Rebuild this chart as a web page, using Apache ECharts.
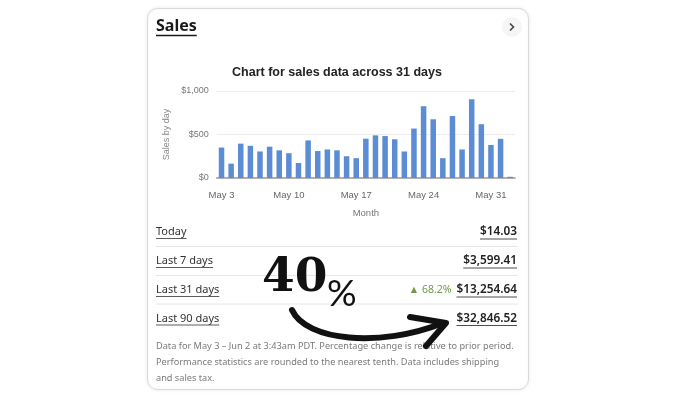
<!DOCTYPE html>
<html><head><meta charset="utf-8">
<script src="https://cdn.jsdelivr.net/npm/echarts@6/dist/echarts.min.js"></script>
<style>html,body{margin:0;padding:0;background:#fff}#c{width:680px;height:409px}</style>
</head><body><div id="c"></div>
<script>
const days = ['May 3','May 4','May 5','May 6','May 7','May 8','May 9','May 10','May 11','May 12','May 13','May 14','May 15','May 16','May 17','May 18','May 19','May 20','May 21','May 22','May 23','May 24','May 25','May 26','May 27','May 28','May 29','May 30','May 31','Jun 1','Jun 2'];
const sales = [350,165,395,370,305,360,318,285,172,432,310,328,318,250,228,452,490,482,445,305,568,825,675,228,712,328,905,618,380,450,14.03];
const yTicks = [0,500,1000];
const yTickLabels = ['$0','$500','$1,000'];
const cardTitle = 'Sales';
const chartTitle = 'Chart for sales data across 31 days';
const rowLabels = ['Today','Last 7 days','Last 31 days','Last 90 days'];
const rowValues = ['$14.03','$3,599.41','$13,254.64','$32,846.52'];
const changeText = '▲ 68.2%';
const footnote = [
  'Data for May 3 – Jun 2 at 3:43am PDT. Percentage change is relative to prior period.',
  'Performance statistics are rounded to the nearest tenth. Data includes shipping',
  'and sales tax.'
];
const noteBig = '40';
const noteSmall = '%';

const ctx = document.createElement('canvas').getContext('2d');
function tw(t, font){ ctx.font = font; return ctx.measureText(t).width; }

const UI = '"Noto Sans", "Open Sans", sans-serif';
const CH = '"Liberation Sans", Arial, sans-serif';
const g = [];
// card
g.push({type:'rect', z:-10, shape:{x:147.5,y:8.5,width:381,height:381,r:10},
  style:{fill:'#fff', stroke:'#d9d9d9', lineWidth:1, shadowBlur:4, shadowColor:'rgba(0,0,0,0.08)'}});
// title
g.push({type:'text', x:156, y:26, style:{text:cardTitle, font:'bold 16px '+UI, fill:'#191919', verticalAlign:'middle'}});
const stw = tw(cardTitle, 'bold 16px Noto Sans');
g.push({type:'line', shape:{x1:156,y1:35.5,x2:156+stw,y2:35.5}, style:{stroke:'#191919', lineWidth:1.5}});
// chevron button
g.push({type:'circle', shape:{cx:512,cy:27,r:10}, style:{fill:'#f5f5f5'}});
g.push({type:'polyline', shape:{points:[[510,23.5],[513.5,27],[510,30.5]]}, style:{stroke:'#444', lineWidth:1.6, fill:null}});
// chart title
g.push({type:'text', x:337, y:73, style:{text:chartTitle, font:'bold 12.5px '+CH, fill:'#222', align:'center', verticalAlign:'middle'}});
// rows
const rowY = [232,261,290,318.5];
const sepY = [246.5,275.5,304];
sepY.forEach(y => g.push({type:'line', shape:{x1:156,y1:y,x2:518,y2:y}, style:{stroke:'#e6e6e6', lineWidth:1}}));
const lf = '11px Noto Sans', vf = '600 11.8px Noto Sans';
rowLabels.forEach((t,i) => {
  const y = rowY[i];
  g.push({type:'text', x:156, y:y, style:{text:t, font:'11px '+UI, fill:'#333', verticalAlign:'middle'}});
  g.push({type:'line', shape:{x1:156,y1:y+6.5,x2:156+tw(t,lf),y2:y+6.5}, style:{stroke:'#333', lineWidth:0.8}});
  const v = rowValues[i];
  const w = tw(v, vf);
  g.push({type:'text', x:517, y:y, style:{text:v, font:'600 11.8px '+UI, fill:'#222', align:'right', verticalAlign:'middle'}});
  g.push({type:'line', shape:{x1:517-w,y1:y+7,x2:517,y2:y+7}, style:{stroke:'#222', lineWidth:0.8}});
  if (i === 2) {
    g.push({type:'text', x:517-w-5, y:y, style:{text:changeText, font:'10.5px '+UI, fill:'#6f9a4a', align:'right', verticalAlign:'middle'}});
  }
});
// footnote
footnote.forEach((t,i) => g.push({type:'text', x:156, y:346+i*16, style:{text:t, font:'9.2px '+UI, fill:'#7a7a7a', verticalAlign:'middle'}}));
// annotation
g.push({type:'text', z:100, x:262, y:279, style:{text:noteBig, font:'bold 47px "DejaVu Serif", serif', fill:'#111', verticalAlign:'middle'}});
g.push({type:'text', z:100, x:327, y:294, style:{text:noteSmall, font:'37px Lato, "Liberation Sans", sans-serif', fill:'#111', verticalAlign:'middle'}});
g.push({type:'bezierCurve', z:100, shape:{x1:292,y1:310,cpx1:306,cpy1:341,cpx2:380,cpy2:348,x2:443,y2:323},
  style:{stroke:'#111', lineWidth:6, fill:null, lineCap:'round'}});
g.push({type:'polyline', z:100, shape:{points:[[410,317],[446,323],[426,346]]},
  style:{stroke:'#111', lineWidth:6, fill:null, lineCap:'round', lineJoin:'round'}});

const chart = echarts.init(document.getElementById('c'), null, {renderer:'canvas'});
chart.setOption({
  backgroundColor:'#fff',
  animation:false,
  grid:{left:216.7, right:165, top:91, bottom:231, containLabel:false, outerBoundsMode:'none'},
  xAxis:{type:'category', data:days,
    axisLine:{lineStyle:{color:'#9a9a9a', width:1.5}}, axisTick:{show:false},
    axisLabel:{interval:6, margin:12, color:'#666', fontSize:9.5, fontFamily:CH},
    name:'Month', nameLocation:'middle', nameGap:30, nameTextStyle:{color:'#777', fontSize:9.5, fontFamily:CH}},
  yAxis:{type:'value', min:yTicks[0], max:yTicks[yTicks.length-1], interval:yTicks[1]-yTicks[0],
    axisLine:{show:false}, axisTick:{show:false},
    axisLabel:{margin:8, color:'#777', fontSize:9, fontFamily:CH,
      formatter:v => yTickLabels[yTicks.indexOf(v)]},
    splitLine:{lineStyle:{color:'#ececec', width:1}},
    name:'Sales by day', nameLocation:'middle', nameRotate:90, nameGap:46,
    nameTextStyle:{color:'#888', fontSize:9, fontFamily:CH}},
  series:[{type:'bar', data:sales, barWidth:5.5, itemStyle:{color:'#5b8cd4'}}],
  graphic:g
});
</script></body></html>
